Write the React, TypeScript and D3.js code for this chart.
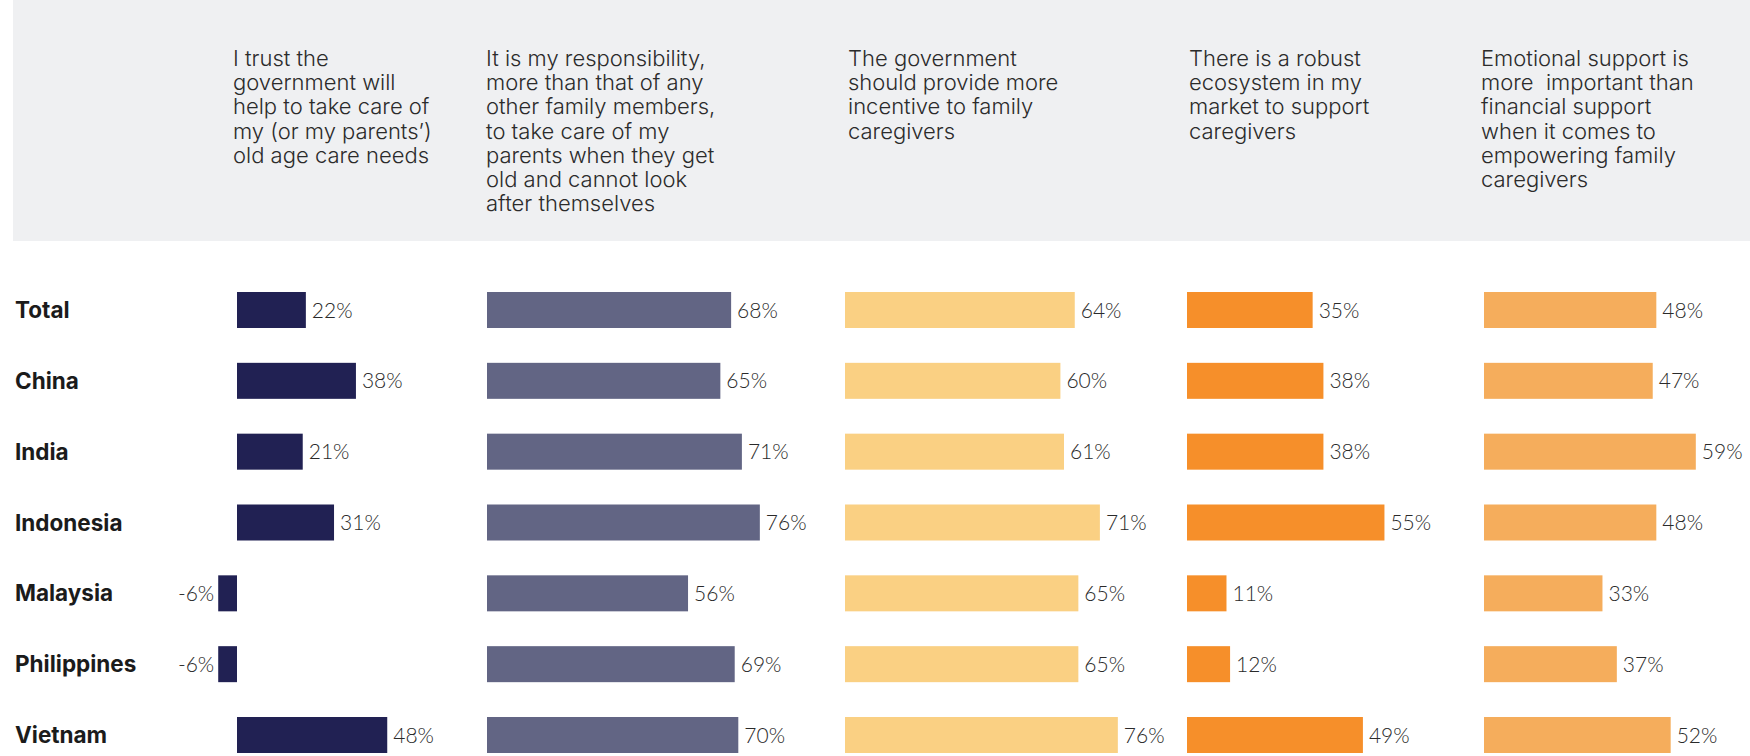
import React from "react";
import * as d3 from "d3";

const countries = ["Total", "China", "India", "Indonesia", "Malaysia", "Philippines", "Vietnam"];
const trustGov = [22, 38, 21, 31, -6, -6, 48];
const myResponsibility = [68, 65, 71, 76, 56, 69, 70];
const govIncentive = [64, 60, 61, 71, 65, 65, 76];
const robustEcosystem = [35, 38, 38, 55, 11, 12, 49];
const emotionalSupport = [48, 47, 59, 48, 33, 37, 52];

const header1 = ["I trust the", "government will", "help to take care of", "my (or my parents\u2019)", "old age care needs"];
const header2 = ["It is my responsibility,", "more than that of any", "other family members,", "to take care of my", "parents when they get", "old and cannot look", "after themselves"];
const header3 = ["The government", "should provide more", "incentive to family", "caregivers"];
const header4 = ["There is a robust", "ecosystem in my", "market to support", "caregivers"];
const header5 = ["Emotional support is", "more\u00a0 important than", "financial support", "when it comes to", "empowering family", "caregivers"];

const W = 1750;
const H = 756;
const HEAD_FONT = "Inter, 'Open Sans', sans-serif";
const VAL_FONT = "Lato, 'Open Sans', sans-serif";

const columns = [
  { header: header1, values: trustGov, color: "#212153", x0: 237, textX: 233, pxPer: 3.13 },
  { header: header2, values: myResponsibility, color: "#626584", x0: 487, textX: 486, pxPer: 3.59 },
  { header: header3, values: govIncentive, color: "#fad083", x0: 845, textX: 848, pxPer: 3.59 },
  { header: header4, values: robustEcosystem, color: "#f68f2a", x0: 1187, textX: 1189, pxPer: 3.59 },
  { header: header5, values: emotionalSupport, color: "#f5ad5c", x0: 1484, textX: 1481, pxPer: 3.59 },
];

export default function App() {
  const y = d3.scalePoint<string>().domain(countries).range([310, 735]);
  const barH = 36;
  return (
    <div style={{ position: "absolute", left: 0, top: 0 }}>
      <svg width={W} height={H} style={{ display: "block" }}>
        <rect x={0} y={0} width={W} height={H} fill="#ffffff" />
        <rect x={13} y={0} width={W - 13} height={241} fill="#eff0f2" />
        {columns.map((c, ci) => (
          <text key={"h" + ci} x={c.textX} y={66} fontFamily={HEAD_FONT} fontSize={22} fill="#2b2b2b" fontWeight={300}>
            {c.header.map((line, li) => (
              <tspan key={li} x={c.textX} y={66 + li * 24.2} style={{ whiteSpace: "pre" }}>
                {line}
              </tspan>
            ))}
          </text>
        ))}
        {countries.map((name) => (
          <text
            key={"r" + name}
            x={15}
            y={y(name)!}
            dy="0.36em"
            fontFamily={HEAD_FONT}
            fontSize={22.5}
            fontWeight={700}
            fill="#1b1b1b"
          >
            {name}
          </text>
        ))}
        {columns.map((c, ci) => {
          const x = d3.scaleLinear().domain([0, 100]).range([c.x0, c.x0 + 100 * c.pxPer]);
          return (
            <g key={"c" + ci}>
              {c.values.map((v, i) => {
                const cy = y(countries[i])!;
                const xa = x(Math.min(0, v));
                const xb = x(Math.max(0, v));
                return (
                  <g key={i}>
                    <rect x={xa} y={cy - barH / 2} width={xb - xa} height={barH} fill={c.color} />
                    <text
                      x={v >= 0 ? xb + 6 : xa - 4}
                      y={cy}
                      dy="0.36em"
                      textAnchor={v >= 0 ? "start" : "end"}
                      fontFamily={VAL_FONT}
                      fontSize={21}
                      fontWeight={300}
                      fill="#2a2a2a"
                    >
                      {v + "%"}
                    </text>
                  </g>
                );
              })}
            </g>
          );
        })}
      </svg>
    </div>
  );
}
